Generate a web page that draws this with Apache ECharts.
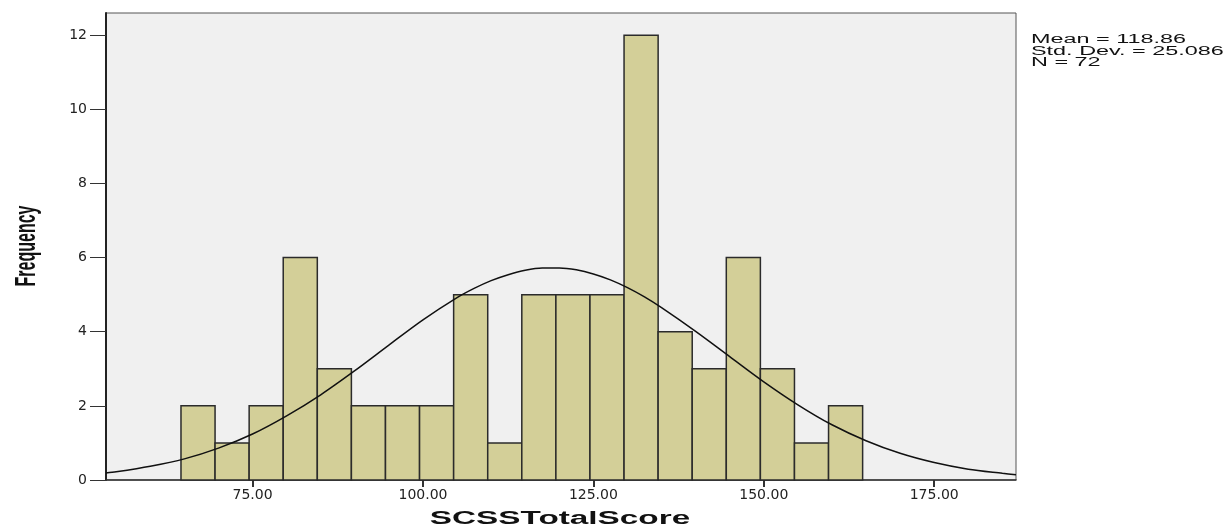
<!DOCTYPE html>
<html>
<head>
<meta charset="utf-8">
<script src="https://cdn.jsdelivr.net/npm/echarts@6/dist/echarts.min.js"></script>
<style>
html,body{margin:0;padding:0;background:#fff;}
#chart{width:1232px;height:529px;}
</style>
</head>
<body>
<div id="chart"></div>
<script>
// Histogram bins (SCSSTotalScore)
const binStart = [64.5, 69.5, 74.5, 79.5, 84.5, 89.5, 94.5, 99.5, 104.5, 109.5, 114.5, 119.5, 124.5, 129.5, 134.5, 139.5, 144.5, 149.5, 154.5, 159.5];
const binEnd   = [69.5, 74.5, 79.5, 84.5, 89.5, 94.5, 99.5, 104.5, 109.5, 114.5, 119.5, 124.5, 129.5, 134.5, 139.5, 144.5, 149.5, 154.5, 159.5, 164.5];
const counts   = [2, 1, 2, 6, 3, 2, 2, 2, 5, 1, 5, 5, 5, 12, 4, 3, 6, 3, 1, 2];

// Normal curve
const curveX = [53.5, 55, 60, 65, 70, 75, 80, 85, 90, 95, 100, 105, 107.5, 110, 112.5, 115, 117.5, 120, 122.5, 125, 127.5, 130, 132.5, 135, 140, 145, 150, 155, 160, 165, 170, 175, 180, 185, 187];
const curveY = [0.19, 0.22, 0.37, 0.57, 0.86, 1.24, 1.73, 2.30, 2.95, 3.64, 4.32, 4.92, 5.17, 5.38, 5.54, 5.66, 5.72, 5.72, 5.67, 5.56, 5.40, 5.19, 4.94, 4.65, 4.01, 3.33, 2.65, 2.03, 1.49, 1.06, 0.72, 0.47, 0.29, 0.18, 0.14];

const xTicks = [75, 100, 125, 150, 175];
const yTicks = [0, 2, 4, 6, 8, 10, 12];

const statsLines = ['Mean = 118.86', 'Std. Dev. = 25.086', 'N = 72'];
const xTitle = 'SCSSTotalScore';
const yTitle = 'Frequency';

const histData = binStart.map((s, i) => [s, binEnd[i], counts[i]]);
const curveData = curveX.map((x, i) => [x, curveY[i]]);

const chart = echarts.init(document.getElementById('chart'));
chart.setOption({
  backgroundColor: '#ffffff',
  animation: false,
  grid: {
    left: 106, right: 216, top: 13, bottom: 49,
    show: true, backgroundColor: '#f0f0f0', borderColor: '#555', borderWidth: 1
  },
  xAxis: {
    type: 'value', min: 53.5, max: 187,
    splitLine: { show: false },
    axisLine: { show: true, onZero: false, lineStyle: { color: '#333', width: 1.5 } },
    axisTick: { show: true, customValues: xTicks, length: 7, lineStyle: { color: '#333', width: 2 } },
    axisLabel: {
      customValues: xTicks, margin: 8, fontSize: 14, fontFamily: 'DejaVu Sans', color: '#222',
      formatter: v => Number(v).toFixed(2)
    }
  },
  yAxis: {
    type: 'value', min: 0, max: 12.6,
    splitLine: { show: false },
    axisLine: { show: true, lineStyle: { color: '#222', width: 2 } },
    axisTick: { show: true, customValues: yTicks, length: 16, lineStyle: { color: '#333', width: 1 } },
    axisLabel: {
      customValues: yTicks, margin: 19, fontSize: 14, fontFamily: 'DejaVu Sans', color: '#222'
    }
  },
  series: [
    {
      type: 'custom',
      data: histData,
      encode: { x: [0, 1], y: 2 },
      renderItem: function (params, api) {
        const p0 = api.coord([api.value(0), api.value(2)]);
        const p1 = api.coord([api.value(1), 0]);
        return {
          type: 'rect',
          shape: { x: p0[0], y: p0[1], width: p1[0] - p0[0], height: p1[1] - p0[1] },
          style: { fill: '#d3cf98', stroke: '#2b2b2b', lineWidth: 1.5 }
        };
      },
      z: 2
    },
    {
      type: 'line',
      data: curveData,
      smooth: 0.3,
      showSymbol: false,
      lineStyle: { color: '#111', width: 1.5 },
      z: 3
    }
  ],
  graphic: [
    {
      type: 'text', left: 1031, top: 34, z: 10,
      style: {
        text: statsLines.join('\n'), fontSize: 12, lineHeight: 11.5,
        fontFamily: 'Liberation Sans, Arial', fill: '#111'
      },
      scaleX: 1.95, scaleY: 1, originX: 0, originY: 0
    },
    {
      type: 'text', x: 560, y: 519, z: 10,
      style: {
        text: xTitle, fontSize: 18, fontWeight: 'bold',
        fontFamily: 'Liberation Sans, Arial', fill: '#111',
        align: 'center', verticalAlign: 'middle'
      },
      scaleX: 1.85, scaleY: 1
    },
    {
      type: 'text', x: 27, y: 246, z: 10,
      rotation: Math.PI / 2,
      style: {
        text: yTitle, fontSize: 16, fontWeight: 'bold',
        fontFamily: 'Liberation Sans, Arial', fill: '#111',
        align: 'center', verticalAlign: 'middle'
      },
      scaleX: 1, scaleY: 1.8
    }
  ]
});
</script>
</body>
</html>
